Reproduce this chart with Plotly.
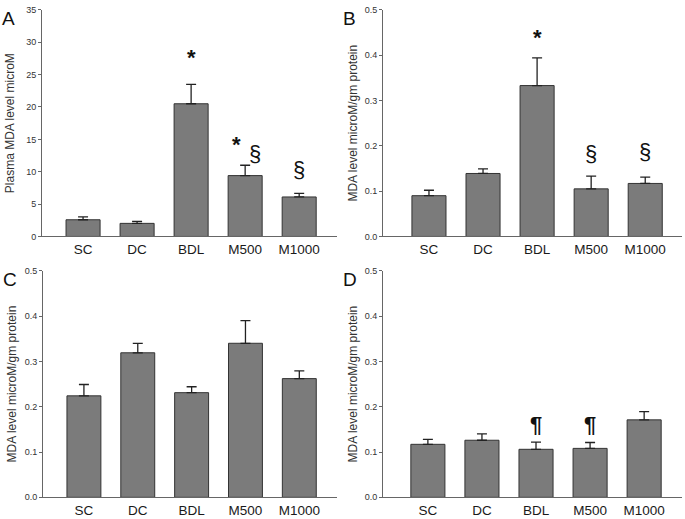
import plotly.graph_objects as go

groups = ["SC", "DC", "BDL", "M500", "M1000"]

# panel A - plasma MDA (microM)
mda_a = [2.58, 2.02, 20.5, 9.4, 6.1]
err_a = [0.45, 0.3, 3.0, 1.6, 0.55]
# panel B
mda_b = [0.090, 0.139, 0.333, 0.105, 0.117]
err_b = [0.012, 0.010, 0.061, 0.028, 0.014]
# panel C
mda_c = [0.224, 0.319, 0.231, 0.340, 0.262]
err_c = [0.025, 0.021, 0.013, 0.050, 0.017]
# panel D
mda_d = [0.117, 0.126, 0.106, 0.108, 0.171]
err_d = [0.011, 0.014, 0.016, 0.013, 0.018]

# significance marks: (group, symbol, y, x nudge in px)
marks_a = [("BDL", "<b>*</b>", 27.6, 0), ("M500", "<b>*</b>", 14.2, -9),
           ("M500", "§", 12.8, 10), ("M1000", "§", 10.3, 0)]
marks_b = [("BDL", "<b>*</b>", 0.44, 0), ("M500", "§", 0.183, 0), ("M1000", "§", 0.188, 0)]
marks_c = []
marks_d = [("BDL", "<b>¶</b>", 0.161, 0), ("M500", "<b>¶</b>", 0.161, 0)]

FONT = "Arial, Liberation Sans, sans-serif"
W, H = 685, 519

panels = [
    # letter, values, errors, marks, y title, title standoff, ymax, dtick, x range, x px, y px
    ("A", mda_a, err_a, marks_a, "Plasma MDA level microM", 8, 35, 5, [-0.76, 4.70], (42, 337), (5, 236)),
    ("B", mda_b, err_b, marks_b, "MDA level microM/gm protein", 4, 0.5, 0.1, [-0.85, 4.68], (383, 682), (5, 236)),
    ("C", mda_c, err_c, marks_c, "MDA level microM/gm protein", 5, 0.5, 0.1, [-0.76, 4.70], (43, 337), (271, 502)),
    ("D", mda_d, err_d, marks_d, "MDA level microM/gm protein", 4, 0.5, 0.1, [-0.83, 4.70], (383, 682), (271, 502)),
]

fig = go.Figure()
annotations = []

for i, (letter, vals, errs, marks, ytitle, stand, ymax, dtick, xr, xpx, ypx) in enumerate(panels):
    n = "" if i == 0 else str(i + 1)
    fig.add_trace(go.Bar(
        x=groups, y=vals,
        xaxis="x" + n, yaxis="y" + n,
        width=0.63,
        marker=dict(color="#7b7b7b", line=dict(color="#333", width=1)),
        error_y=dict(type="data", array=errs, arrayminus=[0] * len(errs), symmetric=False,
                     color="#222", thickness=1.3, width=5),
        showlegend=False,
    ))
    xdom = [xpx[0] / W, xpx[1] / W]
    ydom = [1 - ypx[1] / H, 1 - ypx[0] / H]
    ydec = ".1f" if ymax < 1 else "d"
    fig.update_layout(**{
        "xaxis" + n: dict(domain=xdom, anchor="y" + n, range=xr,
                          showline=True, linecolor="#666", linewidth=1, ticks="",
                          tickfont=dict(size=13.5, color="#1a1a1a", family=FONT),
                          showgrid=False, zeroline=False),
        "yaxis" + n: dict(domain=ydom, anchor="x" + n, range=[0, ymax], dtick=dtick,
                          tickformat=ydec, showline=True, linecolor="#666", linewidth=1,
                          ticks="outside", ticklen=3, tickcolor="#666",
                          tickfont=dict(size=9, color="#333", family=FONT),
                          title=dict(text=ytitle, font=dict(size=12, color="#333", family=FONT),
                                     standoff=stand),
                          showgrid=False, zeroline=False),
    })
    annotations.append(dict(text=letter, xref="paper", yref="paper",
                            x=(xpx[0] - 42) / W, y=1 - (ypx[0] - 4) / H,
                            xanchor="left", yanchor="top", showarrow=False,
                            font=dict(size=19, color="#111", family=FONT)))
    for g, sym, yv, dx in marks:
        annotations.append(dict(text=sym, x=g, y=yv, xref="x" + n, yref="y" + n,
                                xshift=dx, showarrow=False, yanchor="middle",
                                font=dict(size=22, color="#111", family=FONT)))

fig.update_layout(
    width=W, height=H,
    margin=dict(l=0, r=0, t=0, b=0),
    paper_bgcolor="white", plot_bgcolor="white",
    annotations=annotations,
)

# page body has a default 8px margin; drop it so the figure fills the window
fig.write_html("out.html", config={"displayModeBar": False},
               post_script="document.body.style.margin='0';")
